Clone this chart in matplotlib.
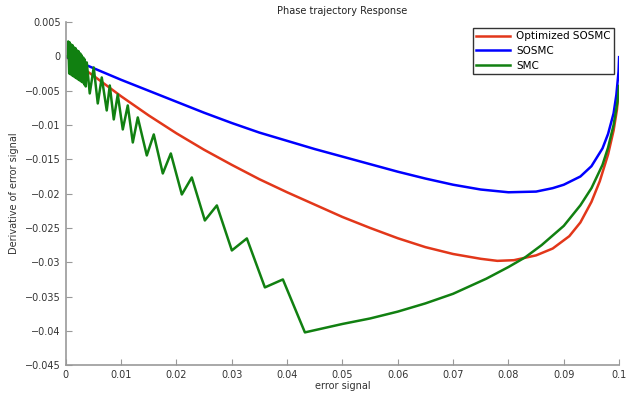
import numpy as np
from matplotlib import pyplot as plt

# Optimized SOSMC
x_opt = [0, 0.005, 0.01, 0.015, 0.02, 0.025, 0.03, 0.035, 0.04, 0.045, 0.05, 0.055, 0.06,
         0.065, 0.07, 0.075, 0.078, 0.081, 0.085, 0.088, 0.091, 0.093, 0.095, 0.0965, 0.098,
         0.099, 0.0996, 0.1]
y_opt = [0, -0.0028, -0.0058, -0.0086, -0.0112, -0.0136, -0.0158, -0.0179, -0.0198, -0.0216,
         -0.0234, -0.0250, -0.0265, -0.0278, -0.0288, -0.0295, -0.0298, -0.0297, -0.0290,
         -0.0280, -0.0262, -0.0242, -0.0212, -0.0182, -0.0143, -0.0108, -0.0078, -0.0044]

# SOSMC
x_sos = [0, 0.005, 0.01, 0.015, 0.02, 0.025, 0.03, 0.035, 0.04, 0.045, 0.05, 0.055, 0.06,
         0.065, 0.07, 0.075, 0.08, 0.085, 0.088, 0.09, 0.093, 0.095, 0.097, 0.098, 0.099,
         0.0995, 0.0999, 0.1]
y_sos = [0, -0.0017, -0.0034, -0.0050, -0.0066, -0.0082, -0.0097, -0.0111, -0.0123, -0.0135,
         -0.0146, -0.0157, -0.0168, -0.0178, -0.0187, -0.0194, -0.0198, -0.0197, -0.0192,
         -0.0187, -0.0175, -0.0160, -0.0134, -0.0113, -0.0083, -0.0056, -0.0022, -0.0001]

# SMC (chattering)
x_smc = [0, 0.00036, 0.00045, 0.00063, 0.00072, 0.00090, 0.00099, 0.00118, 0.00127, 0.00145,
         0.00154, 0.00172, 0.00181, 0.00199, 0.00208, 0.00226, 0.00235, 0.00253, 0.00262,
         0.00280, 0.00289, 0.00307, 0.00316, 0.00335, 0.00344, 0.00362,
         0.00380, 0.00434, 0.00506, 0.00579, 0.00651, 0.00741, 0.00796, 0.00868, 0.00940,
         0.01031, 0.01121, 0.01212, 0.01302, 0.01465, 0.01591, 0.01754, 0.01899, 0.02098,
         0.02278, 0.02514, 0.02731, 0.03002, 0.03273, 0.03599, 0.03924, 0.04322,
         0.05, 0.055, 0.06, 0.065, 0.07, 0.076, 0.08, 0.083, 0.086, 0.09, 0.093, 0.095,
         0.097, 0.098, 0.099, 0.0997, 0.1]
y_smc = [0, 0.0, 0.00219, -0.00248, 0.00204, -0.00262, 0.00175, -0.00277, 0.00160, -0.00292,
         0.00131, -0.00306, 0.00117, -0.00321, 0.00087, -0.00335, 0.00073, -0.00350, 0.00044,
         -0.00364, 0.00015, -0.00379, -0.00015, -0.00408, -0.00044, -0.00437,
         -0.00087, -0.00539, -0.00160, -0.00685, -0.00306, -0.00787, -0.00423, -0.00918, -0.00554,
         -0.01064, -0.00714, -0.01254, -0.00889, -0.01443, -0.01137, -0.01706, -0.01414, -0.02012,
         -0.01764, -0.02391, -0.02172, -0.02828, -0.02653, -0.03367, -0.03251, -0.04023,
         -0.0390, -0.0382, -0.0372, -0.0360, -0.0346, -0.0324, -0.0307, -0.0293, -0.0275,
         -0.0247, -0.0217, -0.0192, -0.0158, -0.0133, -0.0100, -0.0066, -0.0043]

xticks = [0, 0.01, 0.02, 0.03, 0.04, 0.05, 0.06, 0.07, 0.08, 0.09, 0.1]
xticklabels = ['0', '0.01', '0.02', '0.03', '0.04', '0.05', '0.06', '0.07', '0.08', '0.09', '0.1']
yticks = [0.005, 0, -0.005, -0.01, -0.015, -0.02, -0.025, -0.03, -0.035, -0.04, -0.045]
yticklabels = ['0.005', '0', '\u22120.005', '\u22120.01', '\u22120.015', '\u22120.02', '\u22120.025',
               '\u22120.03', '\u22120.035', '\u22120.04', '\u22120.045']

fig = plt.figure(figsize=(6.26, 3.96), dpi=100)
ax = fig.add_axes([0.105, 0.078, 0.884, 0.866])

ax.plot(x_opt, y_opt, color='#e2371a', lw=1.8, label='Optimized SOSMC')
ax.plot(x_sos, y_sos, color='#0000ff', lw=1.8, label='SOSMC')
ax.plot(x_smc, y_smc, color='#118011', lw=1.8, label='SMC')

ax.set_xlim(0, 0.1)
ax.set_ylim(-0.045, 0.005)
ax.set_xticks(xticks)
ax.set_xticklabels(xticklabels)
ax.set_yticks(yticks)
ax.set_yticklabels(yticklabels)

for s in ['top', 'right']:
    ax.spines[s].set_visible(False)
for s in ['left', 'bottom']:
    ax.spines[s].set_color('#999999')
    ax.spines[s].set_linewidth(1.2)
ax.tick_params(direction='in', length=4, color='#999999', labelsize=7, labelcolor='#333333')

ax.set_title('Phase trajectory Response', fontsize=7, color='#222222', pad=6)
ax.set_xlabel('error signal', fontsize=7, color='#333333', labelpad=1)
ax.set_ylabel('Derivative of error signal', fontsize=7, color='#333333', labelpad=4)

leg = ax.legend(loc='upper right', bbox_to_anchor=(0.995, 0.99), fontsize=7.5, fancybox=False,
                framealpha=1, borderpad=0.35, labelspacing=0.45, handlelength=3.2, handletextpad=0.6,
                borderaxespad=0.2)
leg.get_frame().set_edgecolor('#333333')
leg.get_frame().set_linewidth(1.0)

fig.savefig('out.png', dpi=100)
